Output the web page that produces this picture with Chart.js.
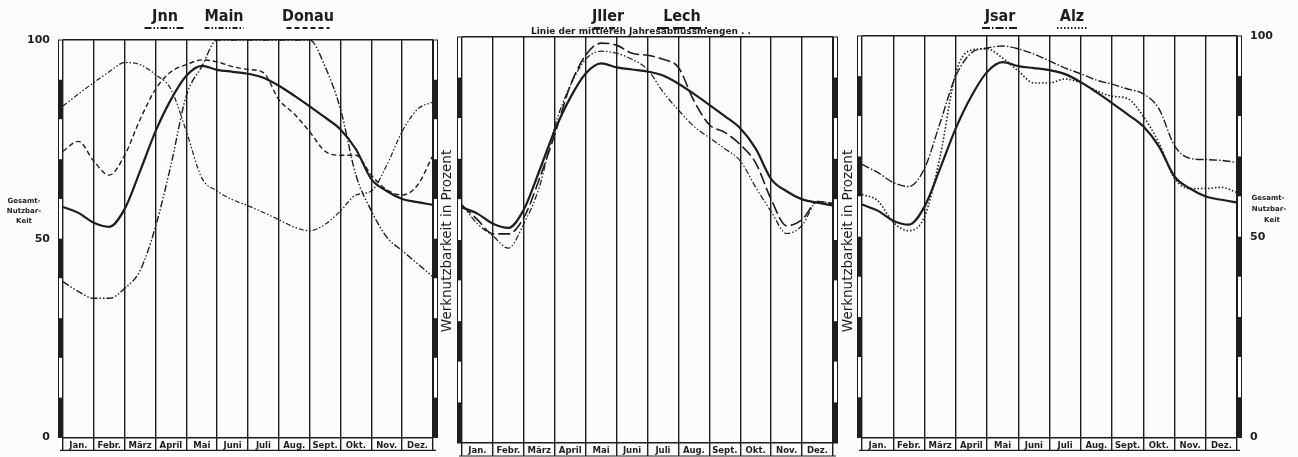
<!DOCTYPE html>
<html>
<head>
<meta charset="utf-8">
<script src="https://cdn.jsdelivr.net/npm/chart.js@4.4.1/dist/chart.umd.min.js"></script>
<style>
  html, body { margin: 0; padding: 0; background: #fcfcfa; }
  #wrap { position: relative; width: 1298px; height: 457px; overflow: hidden; }
  canvas { position: absolute; left: 0; top: 0; }
</style>
</head>
<body>
<div id="wrap">
  <canvas id="c1" width="1298" height="457"></canvas>
  <canvas id="c2" width="1298" height="457"></canvas>
  <canvas id="c3" width="1298" height="457"></canvas>
</div>
<script>
// month columns, values read every half month (0 = start of Jan, 12 = end of Dez)
var months = ["Jan.", "Febr.", "März", "April", "Mai", "Juni", "Juli", "Aug.", "Sept.", "Okt.", "Nov.", "Dez."];
var steps = [0, 0.5, 1, 1.5, 2, 2.5, 3, 3.5, 4, 4.5, 5, 5.5, 6, 6.5, 7, 7.5, 8, 8.5, 9, 9.5, 10, 10.5, 11, 11.5, 12];
var yTicks = [0, 50, 100];

// Gesamt-Nutzbarkeit (solid line, same in every panel)
var gesamt = [58, 56.5, 54, 53, 57.5, 67, 77, 85, 91, 93.5, 92.5, 92, 91.5, 90.5, 88.5, 86, 83.3, 80.5, 77.5, 72.5, 65, 62, 60, 59.2, 58.5];
// panel 1
var inn   = [39.2, 36.7, 35, 35, 37.5, 42, 53, 68.5, 86, 93.3, 100, 100, 100, 100, 100, 100, 100, 93.3, 82.6, 66, 57, 50.4, 47, 43.7, 40.4];
var main  = [83.4, 86.4, 89.3, 92, 94.3, 93.8, 91.3, 87.6, 77, 65.3, 62, 59.8, 58.3, 56.6, 54.8, 52.9, 52, 53.6, 57, 61, 62, 68.5, 77, 82.6, 84.4];
var donau = [72, 74.5, 69.5, 66, 71, 80, 87.6, 92, 93.8, 95, 94.5, 93.3, 92.6, 91.8, 85, 81.4, 76.9, 72, 71, 71, 66, 62.3, 61, 63.5, 71];
// panel 2
var iller = [58.6, 54, 51, 48, 54, 63, 78, 88, 94.5, 96.5, 96, 94.5, 92, 86.5, 82, 78, 75.2, 72.5, 69.5, 63, 57, 51.6, 53.6, 59.5, 59];
var lech  = [58.6, 55, 51.5, 51.5, 55.5, 65, 76, 88, 95.5, 98.5, 98, 96, 95.5, 94.5, 92.5, 84.3, 78.4, 76.5, 73.5, 69, 60, 53.5, 55, 59.5, 59];
// panel 3
var isar  = [68, 66, 63.5, 62.5, 67, 78.4, 90, 95.8, 97, 97.5, 96.8, 95.5, 93.8, 92, 90.6, 89, 88, 86.8, 85.6, 81.9, 72.7, 69.5, 69.2, 69, 68.5];
var alz   = [60.5, 59, 53.6, 51.5, 55, 70, 90.8, 96.5, 96.8, 94.5, 91.3, 88.3, 88.3, 89.3, 88.3, 86.4, 85, 84.4, 80, 73.4, 64.5, 62, 62, 62.3, 61];

var ink = "#1d1d1d";
var sans = '"DejaVu Sans", "Liberation Sans", sans-serif';
var narrow = '"DejaVu Sans Condensed", "Liberation Sans Narrow", "DejaVu Sans", sans-serif';

function line(label, values, dash, width) {
  return {
    label: label,
    data: steps.map(function (s, i) { return { x: s, y: values[i] }; }),
    borderColor: ink,
    borderWidth: width,
    borderDash: dash,
    pointRadius: 0,
    fill: false,
    cubicInterpolationMode: "monotone",
    clip: false
  };
}

var deco = {
  id: "deco",
  afterDraw: function (chart, args, opts) {
    var ctx = chart.ctx, area = chart.chartArea, ys = chart.scales.y;
    ctx.save();
    // black / white scale bars on both sides
    [area.left - 5, area.right].forEach(function (bx) {
      for (var v = 100; v > 0; v -= 10) {
        var t = ys.getPixelForValue(v), b = ys.getPixelForValue(v - 10);
        ctx.fillStyle = (v / 10) % 2 === 0 ? "#ffffff" : ink;
        ctx.fillRect(bx, t, 5, b - t);
      }
      ctx.strokeStyle = ink;
      ctx.lineWidth = 1;
      ctx.strokeRect(bx + 0.5, area.top, 4, area.bottom - area.top);
    });
    // bottom edge of the month boxes
    ctx.beginPath();
    ctx.lineWidth = 1.2;
    ctx.moveTo(area.left - 3, area.bottom + 13);
    ctx.lineTo(area.right + 3, area.bottom + 13);
    ctx.stroke();

    // river names with line samples
    (opts.titles || []).forEach(function (tt) {
      var ds = chart.data.datasets.filter(function (d) { return d.label === tt.ds; })[0];
      ctx.font = "bold 16px " + narrow;
      ctx.fillStyle = ink;
      ctx.textAlign = "center";
      ctx.textBaseline = "alphabetic";
      ctx.fillText(tt.text, tt.x, 21);
      var w = tt.w || ctx.measureText(tt.text).width;
      ctx.beginPath();
      ctx.setLineDash(ds.borderDash || []);
      ctx.lineWidth = ds.borderWidth + 0.6;
      ctx.moveTo(tt.x - w / 2, 28);
      ctx.lineTo(tt.x + w / 2, 28);
      ctx.stroke();
      ctx.setLineDash([]);
    });

    (opts.texts || []).forEach(function (tx) {
      ctx.save();
      ctx.translate(tx.x, tx.y);
      if (tx.rotate) ctx.rotate(-Math.PI / 2);
      ctx.font = tx.font;
      ctx.fillStyle = ink;
      ctx.textAlign = "center";
      ctx.textBaseline = "middle";
      ctx.fillText(tx.text, 0, 0);
      ctx.restore();
    });
    ctx.restore();
  }
};

function panelOptions(cfg) {
  return {
    responsive: false,
    animation: false,
    devicePixelRatio: 1,
    layout: { padding: cfg.padding },
    plugins: { legend: { display: false }, tooltip: { enabled: false }, deco: cfg.deco },
    scales: {
      x: {
        type: "linear", min: 0, max: 12,
        afterBuildTicks: function (s) { s.ticks = steps.map(function (v) { return { value: v }; }); },
        afterFit: function (s) { s.height = 14; },
        border: { display: false },
        grid: {
          color: function (c) { return c.tick && Number.isInteger(c.tick.value) ? ink : "rgba(0,0,0,0)"; },
          lineWidth: 1.4,
          tickLength: 13
        },
        ticks: {
          autoSkip: false, maxRotation: 0, minRotation: 0, padding: -10, color: ink,
          font: { family: sans, size: 8.5, weight: "bold" },
          callback: function (v) { return Number.isInteger(v) ? "" : months[v - 0.5]; }
        }
      },
      y: {
        position: cfg.yPos, min: 0, max: 100,
        afterBuildTicks: function (s) { s.ticks = yTicks.map(function (v) { return { value: v }; }); },
        afterFit: function (s) { s.width = cfg.yWidth; },
        border: { display: false },
        grid: {
          color: function (c) { return c.tick && (c.tick.value === 0 || c.tick.value === 100) ? ink : "rgba(0,0,0,0)"; },
          lineWidth: 1.4,
          drawTicks: false
        },
        ticks: {
          display: cfg.showTicks, padding: 13, color: ink,
          font: { family: sans, size: 11, weight: "bold" }
        }
      }
    }
  };
}

var wnLabel = "Werknutzbarkeit in Prozent";
var wnFont = "13.5px " + sans;
var smallBold = "bold 7px " + sans;

new Chart(document.getElementById("c1"), {
  type: "line",
  data: {
    datasets: [
      line("Gesamt-Nutzbarkeit", gesamt, [], 2.2),
      line("Jnn", inn, [7, 2, 1.5, 2, 1.5, 2], 1.4),
      line("Main", main, [5, 2, 1.5, 2, 1.5, 2], 1.2),
      line("Donau", donau, [5, 3], 1.4)
    ]
  },
  options: panelOptions({
    padding: { left: 0, right: 865, top: 40, bottom: 0 },
    yPos: "left", yWidth: 63, showTicks: true,
    deco: {
      titles: [
        { text: "Jnn", x: 165, ds: "Jnn", w: 41 },
        { text: "Main", x: 224, ds: "Main", w: 39 },
        { text: "Donau", x: 308, ds: "Donau", w: 43 }
      ],
      texts: [
        { text: "Gesamt-", x: 24, y: 201, font: smallBold },
        { text: "Nutzbar-", x: 24, y: 211, font: smallBold },
        { text: "Keit", x: 24, y: 221, font: smallBold },
        { text: wnLabel, x: 447, y: 241, font: wnFont, rotate: true }
      ]
    }
  }),
  plugins: [deco]
});

new Chart(document.getElementById("c2"), {
  type: "line",
  data: {
    datasets: [
      line("Gesamt-Nutzbarkeit", gesamt, [], 2.2),
      line("Jller", iller, [6, 2, 1.5, 2, 1.5, 2], 1.2),
      line("Lech", lech, [12, 4], 1.6)
    ]
  },
  options: panelOptions({
    padding: { left: 462, right: 465, top: 37, bottom: 0 },
    yPos: "left", yWidth: 0, showTicks: false,
    deco: {
      titles: [
        { text: "Jller", x: 608, ds: "Jller", w: 28 },
        { text: "Lech", x: 682, ds: "Lech", w: 50 }
      ],
      texts: [
        { text: "Linie der mittleren Jahresabflussmengen . .", x: 641, y: 32, font: "bold 9px " + sans },
        { text: wnLabel, x: 848, y: 241, font: wnFont, rotate: true }
      ]
    }
  }),
  plugins: [deco]
});

new Chart(document.getElementById("c3"), {
  type: "line",
  data: {
    datasets: [
      line("Gesamt-Nutzbarkeit", gesamt, [], 2.2),
      line("Jsar", isar, [8, 2, 1.5, 2], 1.4),
      line("Alz", alz, [1.5, 2], 1.6)
    ]
  },
  options: panelOptions({
    padding: { left: 862, right: 0, top: 36, bottom: 0 },
    yPos: "right", yWidth: 61, showTicks: true,
    deco: {
      titles: [
        { text: "Jsar", x: 1000, ds: "Jsar", w: 36 },
        { text: "Alz", x: 1072, ds: "Alz", w: 30 }
      ],
      texts: [
        { text: "Gesamt-", x: 1268, y: 198, font: smallBold },
        { text: "Nutzbar-", x: 1269, y: 209, font: smallBold },
        { text: "Keit", x: 1272, y: 220, font: smallBold }
      ]
    }
  }),
  plugins: [deco]
});
</script>
</body>
</html>
